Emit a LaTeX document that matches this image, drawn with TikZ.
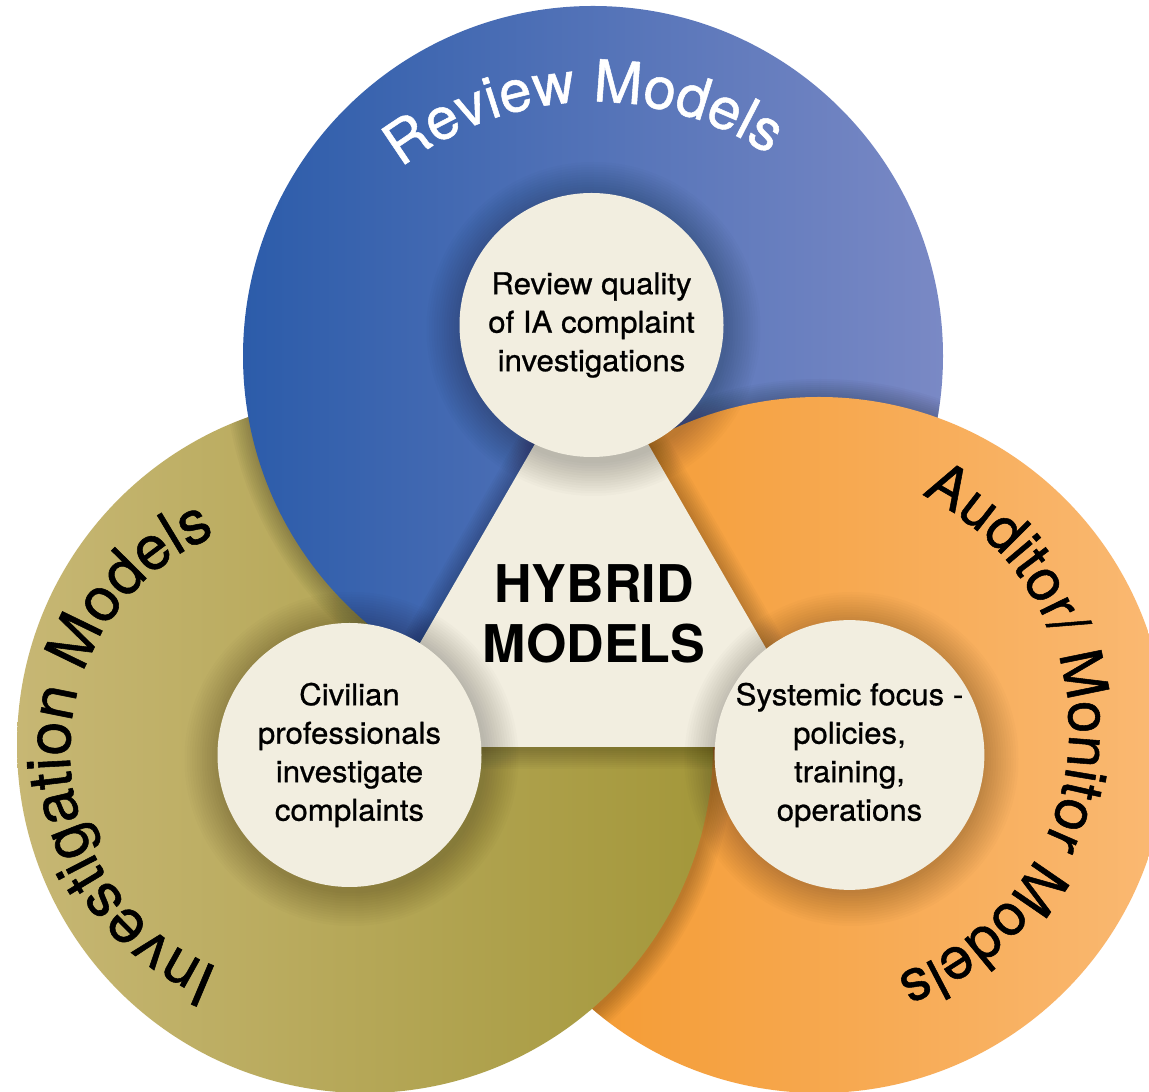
\documentclass[tikz,border=0pt]{standalone}
\usepackage{fontspec}
\setmainfont{TeX Gyre Heros}
\newfontfamily\medfont{TeX Gyre Heros}[FakeBold=0.8,FakeStretch=1.04]
\newfontfamily\arcfont{TeX Gyre Heros}[FakeBold=0.9]
\usetikzlibrary{decorations.text}
\definecolor{blueL}{HTML}{2C5CAA}
\definecolor{blueR}{HTML}{7A89C5}
\definecolor{oliveL}{HTML}{C7B774}
\definecolor{oliveR}{HTML}{A3973A}
\definecolor{orangeL}{HTML}{F39628}
\definecolor{orangeR}{HTML}{FAB973}
\definecolor{cream}{HTML}{F2EEE0}
\newcommand\smalltxt{\medfont\fontsize{30}{38.5}\selectfont}
\newcommand\hybtxt{\bfseries\fontsize{52}{60}\selectfont}
\newcommand\arctxt{\arcfont\fontsize{58}{58}\selectfont}
\newcommand\arctxtl{\arcfont\fontsize{61}{61}\selectfont}
\begin{document}
\begin{tikzpicture}[x=1pt,y=1pt,
  shadowlayer/.style={black,opacity=0.022},
  softlayer/.style={black,opacity=0.017},
  bluedisk/.style={left color=blueL,right color=blueR},
  olivedisk/.style={left color=oliveL,right color=oliveR},
  orangedisk/.style={left color=orangeL,right color=orangeR},
  smalldisk/.style={circle,fill=cream,minimum size=264pt,inner sep=0pt,align=center,font=\smalltxt,text=black},
]
\useasboundingbox (0,0) rectangle (1149,1092);
\clip (0,0) rectangle (1149,1092);
\fill[white] (0,0) rectangle (1149,1092);

\coordinate (bc) at (593,736);
\coordinate (oc) at (365,347);
\coordinate (rc) at (819,347);

% big circles (cyclic overlap) with soft shadows cast on the circle below
\path[olivedisk] (oc) circle[radius=348];
\begin{scope}
  \clip (oc) circle[radius=348];
  \foreach \k in {1,...,10} \fill[shadowlayer] ([shift={(1,-2)}]bc) circle[radius=350+2*\k];
\end{scope}
\path[bluedisk] (bc) circle[radius=350];
\begin{scope}
  \clip (bc) circle[radius=350];
  \foreach \k in {1,...,10} \fill[shadowlayer] ([shift={(1,-2)}]rc) circle[radius=348+2*\k];
\end{scope}
\path[orangedisk] (rc) circle[radius=348];
\begin{scope}
  \clip (rc) circle[radius=348];
  \foreach \k in {1,...,10} \fill[shadowlayer] ([shift={(1,-2)}]oc) circle[radius=348+2*\k];
\end{scope}
\begin{scope}
  \clip (rc) circle[radius=351];
  \path[olivedisk] (oc) circle[radius=348];
\end{scope}

% central triangle with soft shadow
\coordinate (t1) at (591.5,746);
\coordinate (t2) at (360,345);
\coordinate (t3) at (823,345);
\foreach \k in {1,...,10}
  \draw[shadowlayer,line join=round,line width=4*\k] ([shift={(1,-2)}]t1) -- ([shift={(1,-2)}]t2) -- ([shift={(1,-2)}]t3) -- cycle;
\path[fill=cream] (t1) -- (t2) -- (t3) -- cycle;

% shadows of the small circles
\coordinate (ptop) at (591.5,767);
\coordinate (pleft) at (349.5,337);
\coordinate (pright) at (849.5,337);
\foreach \p in {ptop,pleft,pright}
  \foreach \k in {1,...,14} \fill[softlayer] ([shift={(2,-4)}]\p) circle[radius=132+2.5*\k];

% small circles
\node[smalldisk] (ntop) at (ptop) {Review quality\\of IA complaint\\investigations};
\node[smalldisk] (nleft) at (pleft) {Civilian\\professionals\\investigate\\complaints};
\node[smalldisk] (nright) at (pright) {Systemic focus -\\policies,\\training,\\operations};

\node[font=\hybtxt,align=center] (hyb) at (594,478.5) {HYBRID\\MODELS};

% arc labels
\coordinate (rvc) at (594,675);
\coordinate (ivc) at (302,341);
\coordinate (auc) at (808,362);
\path[decorate,decoration={text along path,text align=center,text color=white,text={|\arctxt|Review Models}}]
  ([shift={(167:315)}]rvc) arc[start angle=167,end angle=17,radius=315];
\path[decorate,decoration={text along path,text align=center,text color=black,text={|\arctxtl|Investigation Models}}]
  ([shift={(256:232)}]ivc) arc[start angle=256,end angle=105,radius=232];
\path[decorate,decoration={text along path,text align=center,text color=black,text={|\arctxt|Auditor/ Monitor Models}}]
  ([shift={(75:261)}]auc) arc[start angle=75,end angle=-81,radius=261];
\end{tikzpicture}
\end{document}
